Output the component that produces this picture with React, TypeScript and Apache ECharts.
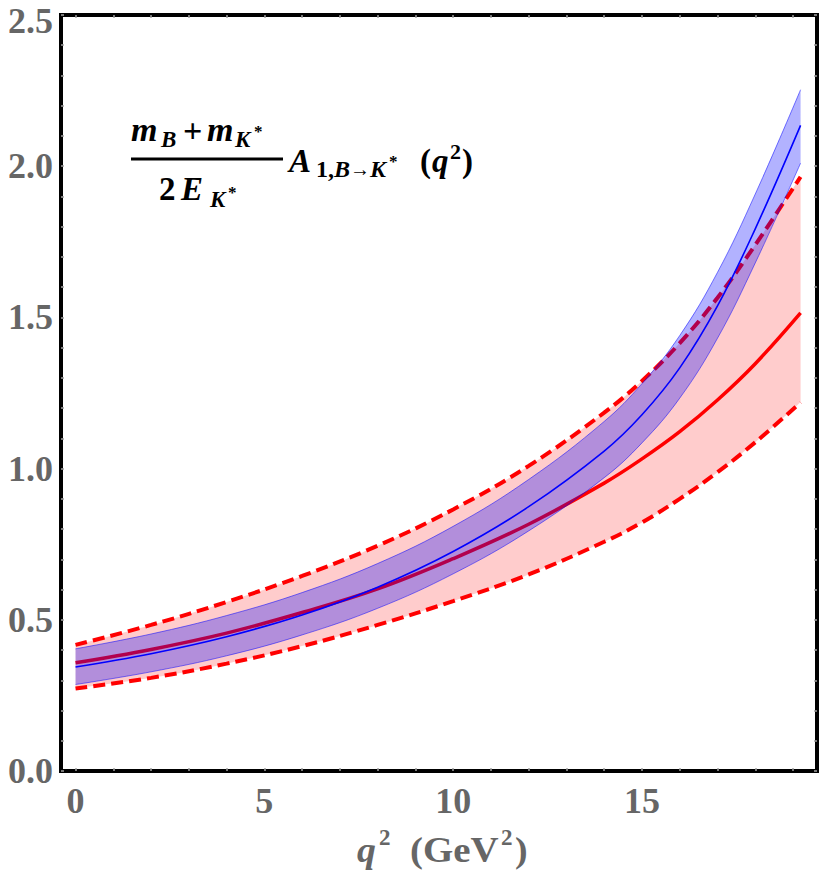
import React, { useEffect, useRef } from 'react';
import * as echarts from 'echarts';

// q^2 sample points (GeV^2) and curves
const Q2 = [0, 2, 4, 6, 8, 10, 12, 14, 15, 16, 17, 18, 19.2];
const RED_CENTRAL = [0.358, 0.402, 0.456, 0.524, 0.602, 0.702, 0.816, 0.952, 1.032, 1.122, 1.227, 1.347, 1.515];
const RED_UPPER = [0.417, 0.483, 0.559, 0.645, 0.745, 0.865, 1.009, 1.185, 1.29, 1.415, 1.565, 1.74, 1.965];
const RED_LOWER = [0.273, 0.308, 0.355, 0.413, 0.483, 0.562, 0.65, 0.758, 0.822, 0.9, 0.988, 1.087, 1.219];
const BLUE_CENTRAL = [0.344, 0.388, 0.444, 0.516, 0.608, 0.726, 0.874, 1.058, 1.178, 1.333, 1.538, 1.793, 2.135];
const BLUE_UPPER = [0.404, 0.453, 0.514, 0.59, 0.686, 0.809, 0.964, 1.156, 1.281, 1.44, 1.649, 1.908, 2.253];
const BLUE_LOWER = [0.286, 0.328, 0.381, 0.45, 0.538, 0.652, 0.794, 0.97, 1.085, 1.233, 1.431, 1.68, 2.01];

const X_LABELS = [0, 5, 10, 15];
const X_TICKS = [0, 1, 2, 3, 4, 5, 6, 7, 8, 9, 10, 11, 12, 13, 14, 15, 16, 17, 18, 19];
const Y_MIN = 0;
const Y_MAX = 2.5;
const Y_STEP = 0.5;
const X_MIN = -0.385;
const X_MAX = 19.635;

const SMOOTH = 0.4;
const SERIF = '"Liberation Serif", "Times New Roman", serif';
const GRAY = '#666666';

const pairs = (ys: number[]) => Q2.map((q, i) => [q, ys[i]]);

// Same smoothing as ECharts' line series (non-monotone branch), so band edges match the lines
function smoothPath(pts: number[][], smooth: number, first: 'M' | 'L'): string {
  const mn = Math.min;
  const mx = Math.max;
  let d = '';
  let prevX = 0, prevY = 0, cpx0 = 0, cpy0 = 0, cpx1 = 0, cpy1 = 0;
  const n = pts.length;
  for (let k = 0; k < n; k++) {
    const x = pts[k][0];
    const y = pts[k][1];
    if (k === 0) {
      d += `${first}${x} ${y}`;
      cpx0 = x;
      cpy0 = y;
    } else {
      let nextCpx0 = x, nextCpy0 = y;
      if (k + 1 >= n) {
        cpx1 = x;
        cpy1 = y;
      } else {
        const nextX = pts[k + 1][0];
        const nextY = pts[k + 1][1];
        let vx = nextX - prevX;
        let vy = nextY - prevY;
        const dx0 = x - prevX, dx1 = nextX - x, dy0 = y - prevY, dy1 = nextY - y;
        const lenPrevSeg = Math.sqrt(dx0 * dx0 + dy0 * dy0);
        const lenNextSeg = Math.sqrt(dx1 * dx1 + dy1 * dy1);
        const ratioNextSeg = lenNextSeg / (lenNextSeg + lenPrevSeg);
        nextCpx0 = x + vx * smooth * ratioNextSeg;
        nextCpy0 = y + vy * smooth * ratioNextSeg;
        nextCpx0 = mn(nextCpx0, mx(nextX, x));
        nextCpy0 = mn(nextCpy0, mx(nextY, y));
        nextCpx0 = mx(nextCpx0, mn(nextX, x));
        nextCpy0 = mx(nextCpy0, mn(nextY, y));
        vx = nextCpx0 - x;
        vy = nextCpy0 - y;
        cpx1 = x - (vx * lenPrevSeg) / lenNextSeg;
        cpy1 = y - (vy * lenPrevSeg) / lenNextSeg;
        cpx1 = mn(cpx1, mx(prevX, x));
        cpy1 = mn(cpy1, mx(prevY, y));
        cpx1 = mx(cpx1, mn(prevX, x));
        cpy1 = mx(cpy1, mn(prevY, y));
        vx = x - cpx1;
        vy = y - cpy1;
        nextCpx0 = x + (vx * lenNextSeg) / lenPrevSeg;
        nextCpy0 = y + (vy * lenNextSeg) / lenPrevSeg;
      }
      d += `C${cpx0} ${cpy0} ${cpx1} ${cpy1} ${x} ${y}`;
      cpx0 = nextCpx0;
      cpy0 = nextCpy0;
    }
    prevX = x;
    prevY = y;
  }
  return d;
}

function band(name: string, lower: number[], upper: number[], fill: string, z: number) {
  return {
    type: 'custom',
    name,
    z,
    silent: true,
    clip: true,
    data: Q2.map((q, i) => [q, lower[i], upper[i]]),
    encode: { x: 0, y: [1, 2] },
    renderItem: (params: any, api: any) => {
      if (params.dataIndex !== 0) return null;
      const up = Q2.map((q, i) => api.coord([q, upper[i]]));
      const lo = Q2.map((q, i) => api.coord([q, lower[i]])).reverse();
      const d = smoothPath(up, SMOOTH, 'M') + smoothPath(lo, SMOOTH, 'L') + 'Z';
      return { type: 'path', shape: { pathData: d }, style: { fill, stroke: null } };
    },
  };
}

function txt(text: string, x: number, y: number, size: number, opts: any = {}) {
  return {
    type: 'text',
    x,
    y,
    z: 100,
    scaleX: opts.sx || 1,
    style: {
      text,
      fontFamily: SERIF,
      fontSize: size,
      fontWeight: 'bold',
      fontStyle: opts.italic ? 'italic' : 'normal',
      fill: opts.fill || '#000',
      align: 'left',
      verticalAlign: 'middle',
      rich: opts.rich,
    },
  };
}

export default function App() {
  const ref = useRef<HTMLDivElement>(null);
  useEffect(() => {
    if (!ref.current) return;
    const chart = echarts.init(ref.current, null, { renderer: 'svg' });
    const lineBase = { type: 'line', symbol: 'none', smooth: SMOOTH, silent: true };
    const tickColor = '#a0a0a0';
    const tickStyle = { show: true, inside: true, length: 3, lineStyle: { color: tickColor, width: 1.5 } };
    const minorStyle = { show: true, splitNumber: 5, length: 3, lineStyle: { color: tickColor, width: 1.5 } };
    const labelStyle = { color: GRAY, fontFamily: SERIF, fontWeight: 'bold', fontSize: 36 };
    const noLine = { show: false, onZero: false };
    const sub = { fontFamily: SERIF, fontWeight: 'bold', fontSize: 24, fill: '#000' };
    const option: any = {
      animation: false,
      backgroundColor: '#fff',
      grid: {
        left: 61,
        right: 10,
        top: 15,
        bottom: 103,
        show: true,
        borderColor: '#000',
        borderWidth: 4,
        backgroundColor: 'transparent',
      },
      xAxis: [
        {
          type: 'value',
          min: X_MIN,
          max: X_MAX,
          position: 'bottom',
          axisLine: noLine,
          splitLine: { show: false },
          axisTick: { ...tickStyle, customValues: X_TICKS },
          axisLabel: { ...labelStyle, customValues: X_LABELS, margin: 12 },
        },
        {
          type: 'value',
          min: X_MIN,
          max: X_MAX,
          position: 'top',
          axisLine: noLine,
          splitLine: { show: false },
          axisTick: { ...tickStyle, customValues: X_TICKS },
          axisLabel: { show: false },
        },
      ],
      yAxis: [
        {
          type: 'value',
          min: Y_MIN,
          max: Y_MAX,
          interval: Y_STEP,
          position: 'left',
          axisLine: noLine,
          splitLine: { show: false },
          axisTick: tickStyle,
          minorTick: minorStyle,
          axisLabel: {
            ...labelStyle,
            margin: 8,
            formatter: (v: number) => (v >= Y_MAX ? `{top|${v.toFixed(1)}}` : v.toFixed(1)),
            rich: { top: { ...labelStyle, padding: [12, 0, 0, 0] } },
          },
        },
        {
          type: 'value',
          min: Y_MIN,
          max: Y_MAX,
          interval: Y_STEP,
          position: 'right',
          axisLine: noLine,
          splitLine: { show: false },
          axisTick: tickStyle,
          minorTick: minorStyle,
          axisLabel: { show: false },
        },
      ],
      series: [
        band('redBand', RED_LOWER, RED_UPPER, 'rgba(255,0,0,0.2)', 1),
        { ...lineBase, z: 2, name: 'redUpper', data: pairs(RED_UPPER), lineStyle: { color: '#ff0000', width: 4, type: [12, 6] } },
        { ...lineBase, z: 2, name: 'redLower', data: pairs(RED_LOWER), lineStyle: { color: '#ff0000', width: 4, type: [12, 6] } },
        { ...lineBase, z: 2, name: 'redCentral', data: pairs(RED_CENTRAL), lineStyle: { color: '#ff0000', width: 3.5 } },
        band('blueBand', BLUE_LOWER, BLUE_UPPER, 'rgba(0,0,255,0.3)', 3),
        { ...lineBase, z: 4, name: 'blueUpper', data: pairs(BLUE_UPPER), lineStyle: { color: 'rgba(0,0,255,0.5)', width: 1 } },
        { ...lineBase, z: 4, name: 'blueLower', data: pairs(BLUE_LOWER), lineStyle: { color: 'rgba(0,0,255,0.5)', width: 1 } },
        { ...lineBase, z: 5, name: 'blueCentral', data: pairs(BLUE_CENTRAL), lineStyle: { color: '#0000ff', width: 1.6 } },
      ],
      graphic: [
        // numerator
        txt('m', 131, 129, 34, { italic: true }),
        txt('B', 161, 139, 23, { italic: true }),
        txt('+', 183, 130, 34),
        txt('m', 207, 129, 34, { italic: true }),
        txt('K', 235, 139, 23, { italic: true }),
        txt('*', 254, 131, 17),
        {
          type: 'line',
          z: 100,
          shape: { x1: 131, y1: 159, x2: 283, y2: 159 },
          style: { stroke: '#000', lineWidth: 3 },
        },
        // denominator
        txt('2', 159, 189, 33),
        txt('E', 181, 189, 33, { italic: true }),
        txt('K', 210, 199, 23, { italic: true }),
        txt('*', 228, 192, 17),
        // A_{1,B->K*}(q^2)
        txt('A', 289, 161, 33, { italic: true }),
        txt('{u|1,}{i|B}{a|\u2192}{i|K}', 316, 169, 24, {
          rich: {
            u: { ...sub },
            i: { ...sub, fontStyle: 'italic' },
            a: { ...sub, fontSize: 20 },
          },
        }),
        txt('*', 389, 161, 17),
        txt('(', 420, 161, 33),
        txt('q', 432, 161, 33, { italic: true }),
        txt('2', 450, 151, 22),
        txt(')', 462, 161, 33),
        // x-axis title
        txt('q', 357, 850, 36, { italic: true, fill: GRAY, sx: 1.05 }),
        txt('2', 379, 837, 23, { fill: GRAY }),
        txt('(GeV', 410, 850, 36, { fill: GRAY, sx: 1.08 }),
        txt('2', 501, 837, 23, { fill: GRAY }),
        txt(')', 515, 850, 36, { fill: GRAY, sx: 1.05 }),
      ],
    };
    chart.setOption(option);
    return () => chart.dispose();
  }, []);
  return <div ref={ref} style={{ position: 'absolute', left: 0, top: 0, width: 827, height: 874 }} />;
}
